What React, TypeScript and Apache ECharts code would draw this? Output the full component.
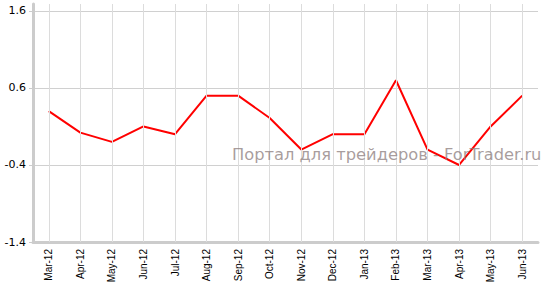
import React, { useEffect, useRef } from "react";
import * as echarts from "echarts";

const categories = [
  "Mar-12", "Apr-12", "May-12", "Jun-12", "Jul-12", "Aug-12", "Sep-12", "Oct-12",
  "Nov-12", "Dec-12", "Jan-13", "Feb-13", "Mar-13", "Apr-13", "May-13", "Jun-13",
];
const values = [0.3, 0.02, -0.1, 0.1, 0.0, 0.5, 0.5, 0.21, -0.2, 0.0, 0.0, 0.7, -0.2, -0.4, 0.1, 0.5];
const yTicks = [-1.4, -0.4, 0.6, 1.6];
const watermark = "Портал для трейдеров - ForTrader.ru";

export default function App() {
  const ref = useRef<HTMLDivElement>(null);
  useEffect(() => {
    const chart = echarts.init(ref.current!, null, { renderer: "svg" });
    chart.setOption({
      animation: false,
      backgroundColor: "#fff",
      grid: { left: 33, right: 11, top: 4, bottom: 50 },
      xAxis: {
        type: "category",
        data: categories,
        boundaryGap: true,
        axisLine: { onZero: false, lineStyle: { color: "#cccccc", width: 3 } },
        axisTick: { alignWithLabel: true, length: 4, lineStyle: { color: "#cccccc" } },
        axisLabel: {
          rotate: 90,
          interval: 0,
          fontFamily: "Liberation Sans, Arial, sans-serif",
          fontSize: 10,
          color: "#000",
          margin: 7,
        },
        splitLine: { show: false },
      },
      yAxis: {
        type: "value",
        min: -1.4,
        max: 1.69,
        axisLine: { show: true, lineStyle: { color: "#cccccc", width: 3 } },
        axisTick: { show: true, length: 4, customValues: yTicks, lineStyle: { color: "#cccccc" } },
        axisLabel: {
          customValues: yTicks,
          fontFamily: "DejaVu Sans, Verdana, sans-serif",
          fontSize: 11,
          color: "#000",
          margin: 7,
          formatter: (v: number) => v.toFixed(1),
        },
        splitLine: { show: true, lineStyle: { color: "#d0d0d0", width: 1 } },
      },
      series: [
        {
          type: "line",
          data: [],
          z: 1,
          markLine: {
            silent: true,
            symbol: "none",
            label: { show: false },
            lineStyle: { color: "#dcdcdc", type: "solid", width: 1 },
            data: categories.map((c) => ({ xAxis: c })),
          },
        },
        {
          type: "line",
          data: values,
          z: 3,
          symbol: "none",
          lineStyle: { color: "#ff0000", width: 2 },
        },
      ],
      graphic: [
        {
          type: "text",
          left: 232,
          top: 146,
          z: 10,
          style: {
            text: watermark,
            fontFamily: "DejaVu Sans, Verdana, sans-serif",
            fontSize: 16.3,
            fill: "rgba(140,125,125,0.75)",
          },
        },
      ],
    });
    return () => chart.dispose();
  }, []);
  return (
    <div
      ref={ref}
      style={{ position: "fixed", left: 0, top: 0, width: 549, height: 292 }}
    />
  );
}
